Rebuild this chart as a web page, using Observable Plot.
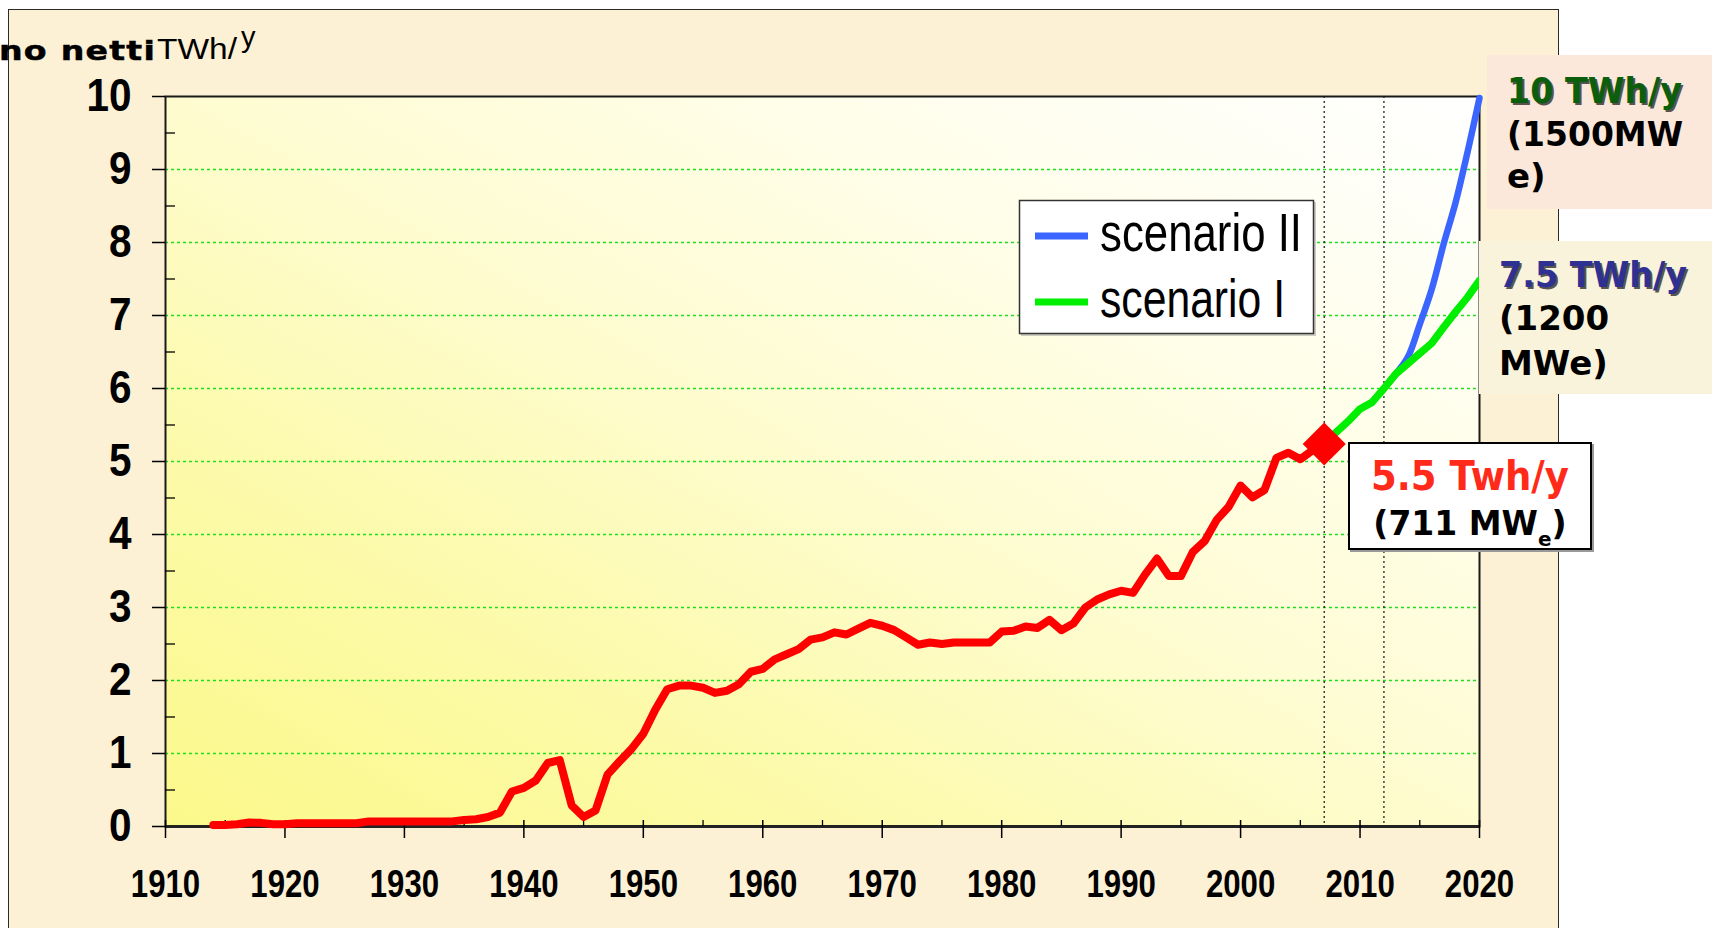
<!DOCTYPE html>
<html><head><meta charset="utf-8">
<script src="https://cdn.jsdelivr.net/npm/d3@7"></script>
<script src="https://cdn.jsdelivr.net/npm/@observablehq/plot@0.6"></script>
<style>
html,body{margin:0;padding:0;background:#fff;width:1712px;height:928px;overflow:hidden;}
#root{position:relative;width:1712px;height:928px;}
#panel{position:absolute;left:8px;top:9px;width:1551px;height:940px;background:#fcf0d5;border:1.5px solid #2a2a2a;box-sizing:border-box;}
#plotbg{position:absolute;left:165px;top:96px;width:1314px;height:730px;background:linear-gradient(to top right,#fbf98a 0%,#fcfaa8 25%,#fefcd2 52%,#fffeec 76%,#ffffff 100%);}
#chart{position:absolute;left:0;top:0;}
#overlay{position:absolute;left:0;top:0;}
</style>
</head><body>
<div id="root">
  <div id="panel"></div>
  <div id="plotbg"></div>
  <div id="chart"></div>
  <svg id="overlay" width="1712" height="928"></svg>
</div>
<script>
// ---- data ----
const years = [1914,1915,1916,1917,1918,1919,1920,1921,1922,1923,1924,1925,1926,1927,1928,1929,1930,1931,1932,1933,1934,1935,1936,1937,1938,1939,1940,1941,1942,1943,1944,1945,1946,1947,1948,1949,1950,1951,1952,1953,1954,1955,1956,1957,1958,1959,1960,1961,1962,1963,1964,1965,1966,1967,1968,1969,1970,1971,1972,1973,1974,1975,1976,1977,1978,1979,1980,1981,1982,1983,1984,1985,1986,1987,1988,1989,1990,1991,1992,1993,1994,1995,1996,1997,1998,1999,2000,2001,2002,2003,2004,2005,2006,2007];
const production = [0.02,0.02,0.03,0.055,0.05,0.03,0.03,0.045,0.045,0.045,0.045,0.045,0.045,0.07,0.07,0.07,0.07,0.07,0.07,0.07,0.07,0.09,0.1,0.13,0.19,0.48,0.53,0.63,0.87,0.91,0.29,0.13,0.22,0.71,0.89,1.06,1.27,1.6,1.88,1.93,1.93,1.9,1.83,1.86,1.95,2.12,2.16,2.29,2.36,2.43,2.56,2.59,2.66,2.63,2.71,2.79,2.75,2.69,2.59,2.49,2.52,2.5,2.52,2.52,2.52,2.52,2.67,2.68,2.74,2.72,2.83,2.69,2.78,3.0,3.11,3.18,3.23,3.2,3.45,3.67,3.43,3.43,3.76,3.91,4.2,4.38,4.67,4.51,4.61,5.05,5.12,5.03,5.15,5.24];
const scenarioIYears = [2007,2008,2009,2010,2011,2012,2013,2014,2015,2016,2017,2018,2019,2020];
const scenarioIValues = [5.24,5.4,5.55,5.72,5.81,6.0,6.2,6.34,6.48,6.62,6.84,7.05,7.25,7.48];
const scenarioIIYears = [2012,2013,2014,2015,2016,2017,2018,2019,2020];
const scenarioIIValues = [6.0,6.2,6.43,6.88,7.36,7.98,8.55,9.24,9.98];
const markerYear = [2007];
const markerValue = [5.24];
const refYears = [2007, 2012];
const yTicks = [0,1,2,3,4,5,6,7,8,9,10];
const yMinor = [0.5,1.5,2.5,3.5,4.5,5.5,6.5,7.5,8.5,9.5];
const gridTicks = [1,2,3,4,5,6,7,8,9];
const xTicks = [1910,1920,1930,1940,1950,1960,1970,1980,1990,2000,2010,2020];
const xMinor = [1915,1925,1935,1945,1955,1965,1975,1985,1995,2005,2015];

const red = years.map((y,i)=>({year:y, value:production[i]}));
const scenI = scenarioIYears.map((y,i)=>({year:y, value:scenarioIValues[i]}));
const scenII = scenarioIIYears.map((y,i)=>({year:y, value:scenarioIIValues[i]}));
const marker = markerYear.map((y,i)=>({year:y, value:markerValue[i]}));

const plot = Plot.plot({
  width: 1712, height: 928,
  marginLeft: 165, marginRight: 233, marginTop: 96, marginBottom: 102,
  x: {domain: [1910, 2020], label: null},
  y: {domain: [0, 10], label: null},
  style: {background: "transparent", fontFamily: "'Liberation Sans', Arial, sans-serif", color: "#000", overflow: "visible"},
  marks: [
    Plot.gridY(gridTicks, {stroke: "#1ee01e", strokeOpacity: 1, strokeDasharray: "3,3", strokeWidth: 1.3}),
    Plot.ruleX(refYears, {stroke: "#111", strokeDasharray: "2,3", strokeWidth: 1.2}),
    Plot.frame({stroke: "#1a1a1a", strokeWidth: 2}),
    Plot.ruleY([0], {stroke: "#222", strokeWidth: 3}),
    Plot.axisY({ticks: yTicks, tickSize: 13, tickPadding: 21, fontSize: 46, fontWeight: "bold", label: null, strokeWidth: 1.5, tickFormat: d => String(d)}),
    Plot.axisY({ticks: yMinor, tickSize: 10, dx: 10, label: null, strokeWidth: 1.3, tickFormat: () => ""}),
    Plot.axisX({ticks: xTicks, tickSize: 18, dy: -6, label: null, strokeWidth: 1.5, tickFormat: () => ""}),
    Plot.axisX({ticks: xMinor, tickSize: 6, dy: -6, label: null, strokeWidth: 1.3, tickFormat: () => ""}),
    Plot.axisX({ticks: xTicks, tickSize: 0, tickPadding: 44, fontSize: 38, fontWeight: "bold", label: null, tickFormat: d => String(d)}),
    Plot.line(scenII, {x: "year", y: "value", stroke: "#3a66ff", strokeWidth: 6.5, curve: "catmull-rom"}),
    Plot.line(scenI, {x: "year", y: "value", stroke: "#00ee00", strokeWidth: 7.5, strokeLinejoin: "round"}),
    Plot.line(red, {x: "year", y: "value", stroke: "#ff0000", strokeWidth: 8, strokeLinejoin: "round"}),
    Plot.dot(marker, {x: "year", y: "value", symbol: "diamond2", r: 19.4, fill: "#ff0000", stroke: "none"})
  ]
});
document.getElementById("chart").appendChild(plot);

// compress axis tick labels (narrow face look)
d3.select(plot).selectAll('g[aria-label="y-axis tick label"] text').each(function(){
  const L = this.getComputedTextLength(); if (L>0){ this.setAttribute("textLength", L*0.88); this.setAttribute("lengthAdjust","spacingAndGlyphs"); }
});
d3.select(plot).selectAll('g[aria-label="x-axis tick label"] text').each(function(){
  const L = this.getComputedTextLength(); if (L>0){ this.setAttribute("textLength", L*0.82); this.setAttribute("lengthAdjust","spacingAndGlyphs"); }
});

// ---- annotations ----
const ov = d3.select("#overlay");
// axis title (clipped at the panel edge, as in the original)
ov.append("text").attr("x", -1).attr("y", 60).attr("font-family","'DejaVu Sans', sans-serif").attr("font-weight","bold")
  .attr("font-size", 27).attr("letter-spacing", 1).attr("stroke","#000").attr("stroke-width",0.5)
  .attr("textLength", 157).attr("lengthAdjust","spacingAndGlyphs").text("no netti");
ov.append("text").attr("x", 157).attr("y", 59).attr("font-family","'Liberation Sans', Arial, sans-serif")
  .attr("font-size", 29).attr("textLength", 80).attr("lengthAdjust","spacingAndGlyphs").text("TWh/");
ov.append("text").attr("x", 241).attr("y", 47).attr("font-family","'Liberation Sans', Arial, sans-serif")
  .attr("font-size", 29).text("y");

// legend
ov.append("rect").attr("x", 1021).attr("y", 202).attr("width", 295).attr("height", 134).attr("fill", "#999").attr("opacity",0.5);
ov.append("rect").attr("x", 1019.5).attr("y", 200.5).attr("width", 294).attr("height", 133).attr("fill", "#fff").attr("stroke", "#333").attr("stroke-width", 1.5);
ov.append("line").attr("x1",1035).attr("x2",1088).attr("y1",236).attr("y2",236).attr("stroke","#3a66ff").attr("stroke-width",7);
ov.append("line").attr("x1",1035).attr("x2",1088).attr("y1",302).attr("y2",302).attr("stroke","#00ee00").attr("stroke-width",7);
ov.append("text").attr("x",1100).attr("y",251).attr("font-family","'Liberation Sans', Arial, sans-serif").attr("font-size",54)
  .attr("textLength",202).attr("lengthAdjust","spacingAndGlyphs").text("scenario II");
ov.append("text").attr("x",1100).attr("y",317).attr("font-family","'Liberation Sans', Arial, sans-serif").attr("font-size",54)
  .attr("textLength",185).attr("lengthAdjust","spacingAndGlyphs").text("scenario I");

// right boxes
ov.append("rect").attr("x",1487).attr("y",55).attr("width",225).attr("height",154).attr("fill","#fbe8da");
ov.append("rect").attr("x",1479).attr("y",241).attr("width",233).attr("height",153).attr("fill","#faf3dc");
const dj = "'DejaVu Sans', Verdana, sans-serif";
function shadowText(x,y,txt,fill,len){
  ov.append("text").attr("x",x+2).attr("y",y+2).attr("font-family",dj).attr("font-weight","bold").attr("font-size",35).attr("fill","#222").attr("opacity",0.75)
    .attr("textLength",len).attr("lengthAdjust","spacingAndGlyphs").text(txt);
  ov.append("text").attr("x",x).attr("y",y).attr("font-family",dj).attr("font-weight","bold").attr("font-size",35).attr("fill",fill)
    .attr("textLength",len).attr("lengthAdjust","spacingAndGlyphs").text(txt);
}
shadowText(1507,103,"10 TWh/y","#0b5e0b",175);
ov.append("text").attr("x",1507).attr("y",146).attr("font-family",dj).attr("font-weight","bold").attr("font-size",34).attr("textLength",176).attr("lengthAdjust","spacingAndGlyphs").text("(1500MW");
ov.append("text").attr("x",1507).attr("y",188).attr("font-family",dj).attr("font-weight","bold").attr("font-size",34).text("e)");
shadowText(1499,287,"7.5 TWh/y","#2e3192",188);
ov.append("text").attr("x",1499).attr("y",330).attr("font-family",dj).attr("font-weight","bold").attr("font-size",34).text("(1200");
ov.append("text").attr("x",1499).attr("y",375).attr("font-family",dj).attr("font-weight","bold").attr("font-size",34).text("MWe)");

// 5.5 box
ov.append("rect").attr("x",1350).attr("y",444).attr("width",244).attr("height",108).attr("fill","#999");
ov.append("rect").attr("x",1349).attr("y",443).attr("width",242).attr("height",106).attr("fill","#fff").attr("stroke","#000").attr("stroke-width",2);
ov.append("text").attr("x",1470).attr("y",490).attr("text-anchor","middle").attr("font-family",dj).attr("font-weight","bold").attr("font-size",40).attr("fill","#ff2a1a")
  .attr("textLength",198).attr("lengthAdjust","spacingAndGlyphs").text("5.5 Twh/y");
const t2 = ov.append("text").attr("x",1470).attr("y",535).attr("text-anchor","middle").attr("font-family",dj).attr("font-weight","bold").attr("font-size",33);
t2.append("tspan").text("(711 MW");
t2.append("tspan").attr("font-size",20).attr("dy",11).text("e");
t2.append("tspan").attr("dy",-11).text(")");
</script>
</body></html>
